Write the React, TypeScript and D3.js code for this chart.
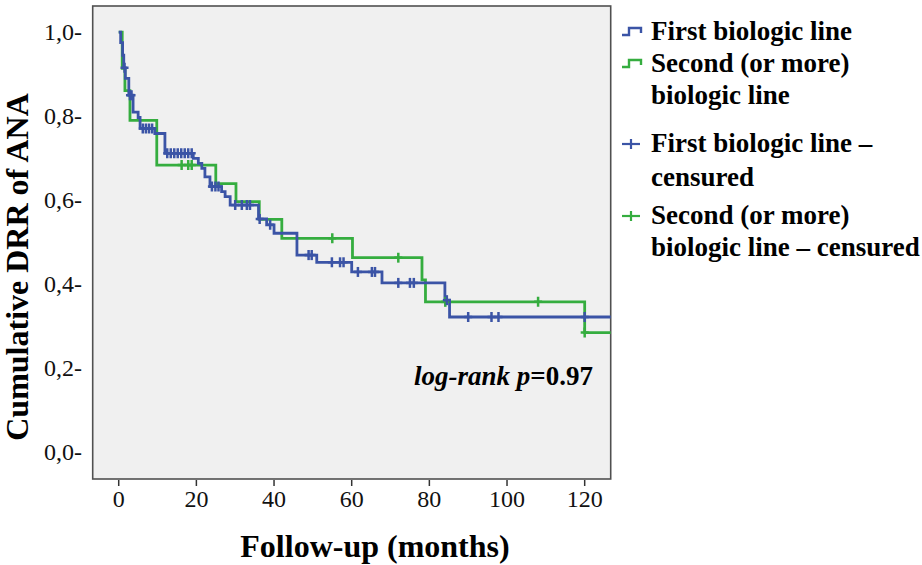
import { line, curveStepAfter, scaleLinear, bisectRight } from 'd3';

// Kaplan-Meier steps: time in months, cumulative DRR after each drop
const firstTimes = [0, 0.5, 1.0, 1.3, 1.7, 2.6, 3.7, 5.0, 5.5, 9.3, 11.9, 19.2, 20.5, 21.4, 22.2, 23.5, 26.5, 27.4, 28.7, 36.0, 38.1, 40.0, 45.9, 51.0, 60.0, 67.8, 84.0, 85.2, 130];
const firstSurv = [1.0, 0.975, 0.945, 0.915, 0.89, 0.85, 0.81, 0.797, 0.771, 0.759, 0.712, 0.7, 0.688, 0.676, 0.656, 0.633, 0.621, 0.609, 0.589, 0.556, 0.542, 0.522, 0.47, 0.453, 0.43, 0.404, 0.363, 0.323, 0.323];
const firstCensored = [1.5, 2.9, 3.3, 6.2, 7.0, 7.8, 8.6, 12.5, 13.4, 14.3, 15.2, 16.1, 17.0, 17.9, 18.8, 24.0, 24.9, 25.7, 30.0, 31.7, 33.0, 33.8, 36.3, 39.0, 48.9, 49.7, 54.9, 57.0, 57.9, 61.6, 65.2, 66.0, 72.0, 75.0, 76.0, 84.5, 90.0, 96.0, 97.8, 120.0];

const secondTimes = [0, 0.9, 1.6, 2.9, 9.8, 25.0, 30.2, 36.2, 42.0, 60.2, 78.1, 79.0, 120.0, 130];
const secondSurv = [1.0, 0.914, 0.861, 0.79, 0.684, 0.64, 0.597, 0.555, 0.51, 0.464, 0.411, 0.359, 0.286, 0.286];
const secondCensored = [16.2, 17.9, 18.8, 55.0, 72.0, 84.1, 108.0, 120.0];

const xTicks = [0, 20, 40, 60, 80, 100, 120];
const yTicks = [0, 0.2, 0.4, 0.6, 0.8, 1.0];

const legendLines = [
  { text: 'First biologic line', icon: 'step', color: '#3b54a6' },
  { text: 'Second (or more)', icon: 'step', color: '#35ad3f' },
  { text: 'biologic line', icon: '', color: '' },
  { text: 'First biologic line –', icon: 'plus', color: '#3b54a6' },
  { text: 'censured', icon: '', color: '' },
  { text: 'Second (or more)', icon: 'plus', color: '#35ad3f' },
  { text: 'biologic line – censured', icon: '', color: '' },
];
const legendBaselines = [40, 72, 104, 152, 186, 224, 256];

const BLUE = '#3b54a6';
const GREEN = '#35ad3f';
const FONT = '"Liberation Serif", "Times New Roman", serif';

function survAt(times: number[], surv: number[], t: number) {
  const i = Math.max(0, bisectRight(times, t) - 1);
  return surv[i];
}

export default function App() {
  const width = 922;
  const height = 565;
  const frame = { left: 92.7, right: 610.7, top: 6, bottom: 479 };

  const x = scaleLinear().domain([-6.7, 126.7]).range([frame.left, frame.right]);
  const y = scaleLinear().domain([-0.062, 1.062]).range([frame.bottom, frame.top]);

  const path = line<[number, number]>()
    .x((d) => x(d[0]))
    .y((d) => y(d[1]))
    .curve(curveStepAfter);

  const series = [
    { times: secondTimes, surv: secondSurv, cens: secondCensored, color: GREEN },
    { times: firstTimes, surv: firstSurv, cens: firstCensored, color: BLUE },
  ];

  return (
    <div style={{ position: 'fixed', left: 0, top: 0, width, height, background: '#fff' }}>
      <svg width={width} height={height} style={{ display: 'block' }} fontFamily={FONT}>
        <defs>
          <clipPath id="plotClip">
            <rect x={frame.left} y={frame.top} width={frame.right - frame.left} height={frame.bottom - frame.top} />
          </clipPath>
        </defs>

        <rect
          x={frame.left}
          y={frame.top}
          width={frame.right - frame.left}
          height={frame.bottom - frame.top}
          fill="#f0f0f0"
          stroke="#505050"
          strokeWidth={1.6}
        />

        <g clipPath="url(#plotClip)">
          {series.map((s, k) => (
            <path
              key={`line-${k}`}
              d={path(s.times.map((t, i) => [t, s.surv[i]] as [number, number])) || ''}
              fill="none"
              stroke={s.color}
              strokeWidth={2.8}
            />
          ))}
          {series.map((s, k) => (
            <g key={`cens-${k}`} stroke={s.color} strokeWidth={2.5}>
              {s.cens.map((t, i) => {
                const cx = x(t);
                const cy = y(survAt(s.times, s.surv, t));
                return (
                  <g key={i}>
                    <line x1={cx} x2={cx} y1={cy - 5} y2={cy + 5} />
                    <line x1={cx - 4} x2={cx + 4} y1={cy} y2={cy} />
                  </g>
                );
              })}
            </g>
          ))}
        </g>

        {/* x axis ticks */}
        {xTicks.map((t) => (
          <g key={`xt-${t}`}>
            <line x1={x(t)} x2={x(t)} y1={frame.bottom + 1} y2={frame.bottom + 7} stroke="#333" strokeWidth={1.5} />
            <text x={x(t)} y={507} textAnchor="middle" fontSize={24} fill="#111">
              {t}
            </text>
          </g>
        ))}

        {/* y axis labels */}
        {yTicks.map((v) => (
          <text key={`yt-${v}`} x={82} y={y(v) + 7.5} textAnchor="end" fontSize={24} fill="#111">
            {`${v.toFixed(1).replace('.', ',')}-`}
          </text>
        ))}

        <text x={375} y={557} textAnchor="middle" fontSize={32} fontWeight="bold" fill="#000">
          Follow-up (months)
        </text>
        <text
          transform="translate(28, 267) rotate(-90)"
          textAnchor="middle"
          fontSize={32}
          fontWeight="bold"
          fill="#000"
        >
          Cumulative DRR of ANA
        </text>

        <text x={593} y={385} textAnchor="end" fontSize={27} fontWeight="bold" fill="#000">
          <tspan fontStyle="italic">log-rank p</tspan>
          <tspan>=0.97</tspan>
        </text>

        {/* legend */}
        {legendLines.map((l, i) => {
          const by = legendBaselines[i];
          const cy = by - 8;
          return (
            <g key={`lg-${i}`}>
              {l.icon === 'step' && (
                <path
                  d={`M622,${cy + 3} H629 V${cy - 4} H641 V${cy + 1}`}
                  fill="none"
                  stroke={l.color}
                  strokeWidth={2.4}
                />
              )}
              {l.icon === 'plus' && (
                <g stroke={l.color} strokeWidth={2.2}>
                  <line x1={622} x2={640} y1={cy} y2={cy} />
                  <line x1={631} x2={631} y1={cy - 5} y2={cy + 5} />
                </g>
              )}
              <text x={651} y={by} fontSize={27} fontWeight="bold" fill="#000">
                {l.text}
              </text>
            </g>
          );
        })}
      </svg>
    </div>
  );
}
